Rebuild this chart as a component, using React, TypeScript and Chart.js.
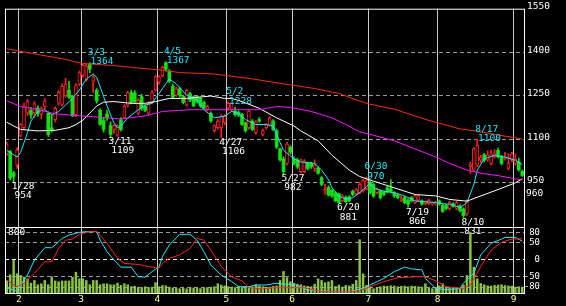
import React, { useEffect, useRef } from 'react';
import { Chart, registerables } from 'chart.js';

Chart.register(...registerables);

// ---------- categories (trading days) ----------
const monthNums = [1, 2, 3, 4, 5, 6, 7, 8, 9];
const monthDays: number[][] = [
  [26, 27, 28, 31],
  [1, 2, 3, 4, 7, 8, 9, 10, 14, 15, 16, 17, 18, 21, 22, 24, 25, 28],
  [1, 2, 3, 4, 7, 8, 9, 10, 11, 14, 15, 16, 17, 18, 22, 23, 24, 25, 28, 29, 30, 31],
  [1, 4, 5, 6, 7, 8, 11, 12, 13, 14, 15, 18, 19, 20, 21, 22, 25, 26, 27, 28],
  [2, 6, 9, 10, 11, 12, 13, 16, 17, 18, 19, 20, 23, 24, 25, 26, 27, 30, 31],
  [1, 2, 3, 6, 7, 8, 9, 10, 13, 14, 15, 16, 17, 20, 21, 22, 23, 24, 27, 28, 29, 30],
  [1, 4, 5, 6, 7, 8, 11, 12, 13, 14, 15, 19, 20, 21, 22, 25, 26, 27, 28, 29],
  [1, 2, 3, 4, 5, 8, 9, 10, 12, 15, 16, 17, 18, 19, 22, 23, 24, 25, 26, 29, 30, 31],
  [1, 2, 5],
];
const dates: string[] = monthDays.flatMap((ds, m) => ds.map((d) => `${monthNums[m]}/${d}`));

// ---------- daily prices ----------
const open = [
  1050, 1058, 985, 1012, 1112, 1140, 1190, 1200, 1192, 1208,
  1186, 1213, 1190, 1140, 1168, 1225, 1220, 1250, 1270, 1248,
  1185, 1290, 1320, 1305, 1360, 1300, 1270, 1200, 1165, 1188,
  1147, 1134, 1114, 1167, 1174, 1218, 1261, 1260, 1190, 1247,
  1214, 1190, 1227, 1269, 1298, 1319, 1364, 1335, 1282, 1252,
  1274, 1247, 1218, 1258, 1247, 1247, 1241, 1227, 1203, 1190,
  1130, 1140, 1140, 1157, 1207, 1201, 1197, 1192, 1185, 1157,
  1140, 1163, 1123, 1168, 1117, 1140, 1148, 1163, 1130, 1067,
  1033, 1017, 1073, 1033, 1029, 989, 989, 1017, 1017, 1000,
  1000, 968, 921, 935, 924, 916, 912, 888, 900, 902,
  921, 912, 916, 922, 930, 950, 945, 916, 921, 918,
  933, 930, 916, 908, 888, 899, 890, 899, 882, 890,
  888, 878, 878, 877, 877, 888, 873, 872, 860, 878,
  862, 871, 860, 843, 1006, 994, 1011, 1028, 1047, 1028,
  1017, 1039, 1062, 1039, 1033, 1000, 1028, 1017, 1022, 990,
];
const high = [
  1090, 1062, 990, 1072, 1155, 1225, 1238, 1210, 1230, 1215,
  1212, 1240, 1195, 1185, 1212, 1268, 1290, 1310, 1300, 1252,
  1292, 1335, 1362, 1360, 1364, 1322, 1275, 1205, 1175, 1200,
  1160, 1150, 1150, 1175, 1220, 1265, 1270, 1268, 1240, 1255,
  1220, 1230, 1268, 1320, 1320, 1352, 1367, 1340, 1290, 1280,
  1280, 1252, 1272, 1262, 1250, 1250, 1245, 1232, 1218, 1195,
  1150, 1168, 1185, 1185, 1228, 1226, 1210, 1198, 1190, 1160,
  1200, 1168, 1165, 1175, 1135, 1155, 1178, 1168, 1135, 1070,
  1040, 1090, 1078, 1040, 1035, 1032, 1030, 1022, 1022, 1029,
  1005, 972, 945, 940, 928, 920, 915, 910, 905, 906,
  925, 930, 950, 962, 970, 958, 950, 932, 925, 922,
  938, 961, 920, 912, 905, 903, 895, 903, 910, 908,
  892, 888, 894, 884, 886, 892, 876, 876, 886, 882,
  886, 875, 864, 892, 1022, 1072, 1100, 1045, 1052, 1060,
  1062, 1065, 1070, 1045, 1055, 1050, 1055, 1050, 1035, 995,
];
const low = [
  1045, 960, 954, 1000, 1108, 1135, 1182, 1172, 1175, 1180,
  1170, 1205, 1110, 1125, 1160, 1218, 1215, 1245, 1240, 1178,
  1178, 1285, 1315, 1300, 1330, 1262, 1225, 1148, 1125, 1165,
  1109, 1120, 1110, 1128, 1170, 1212, 1222, 1225, 1185, 1200,
  1195, 1182, 1222, 1265, 1290, 1315, 1335, 1295, 1240, 1248,
  1245, 1222, 1214, 1230, 1212, 1225, 1210, 1203, 1198, 1158,
  1125, 1135, 1106, 1150, 1200, 1195, 1180, 1178, 1148, 1125,
  1135, 1130, 1118, 1158, 1112, 1135, 1145, 1130, 1068, 1025,
  982, 1012, 1050, 1012, 1000, 985, 985, 995, 1000, 989,
  980, 940, 910, 905, 900, 885, 881, 885, 882, 885,
  905, 908, 912, 918, 926, 912, 900, 912, 895, 905,
  915, 915, 900, 895, 885, 878, 866, 884, 878, 886,
  873, 874, 874, 872, 873, 873, 848, 858, 856, 866,
  858, 850, 831, 838, 983, 990, 1005, 1020, 1022, 1025,
  1012, 1035, 1035, 1012, 1028, 995, 1022, 1012, 990, 972,
];
const close = [
  1084, 966, 972, 1063, 1151, 1215, 1230, 1184, 1222, 1188,
  1206, 1232, 1117, 1130, 1207, 1262, 1283, 1290, 1245, 1181,
  1285, 1330, 1355, 1352, 1342, 1315, 1232, 1152, 1135, 1174,
  1117, 1148, 1147, 1133, 1214, 1261, 1227, 1230, 1234, 1207,
  1200, 1224, 1261, 1316, 1315, 1348, 1342, 1300, 1244, 1274,
  1252, 1227, 1269, 1235, 1215, 1230, 1215, 1207, 1214, 1163,
  1147, 1163, 1180, 1180, 1224, 1224, 1185, 1182, 1151, 1130,
  1197, 1134, 1160, 1163, 1130, 1151, 1174, 1134, 1073, 1029,
  989, 1084, 1056, 1017, 1005, 1029, 1025, 1000, 1005, 1012,
  983, 945, 928, 908, 905, 888, 882, 905, 885, 888,
  910, 927, 946, 958, 960, 916, 905, 928, 899, 910,
  919, 920, 905, 899, 895, 882, 877, 888, 905, 905,
  877, 884, 890, 880, 882, 877, 852, 862, 882, 870,
  882, 854, 837, 888, 1013, 1067, 1079, 1039, 1028, 1045,
  1050, 1050, 1039, 1017, 1039, 1017, 1050, 1033, 995, 976,
];

// ---------- moving averages: [day index, value] ----------
const ma5: [number, number][] = [
  [0, 1062], [3, 1039], [4, 1055], [6, 1123], [7, 1163], [9, 1196], [11, 1202], [13, 1185], [15, 1196],
  [17, 1218], [19, 1241], [21, 1270], [23, 1308], [25, 1325], [26, 1314], [28, 1247], [29, 1215], [30, 1185],
  [31, 1157], [32, 1140], [33, 1146], [35, 1174], [38, 1202], [40, 1218], [42, 1224], [45, 1275], [47, 1308],
  [49, 1291], [52, 1252], [55, 1235], [57, 1202], [60, 1174], [63, 1180], [65, 1196], [67, 1190], [69, 1168],
  [72, 1151], [75, 1151], [77, 1146], [79, 1089], [80, 1062], [83, 1033], [85, 1022], [89, 1017], [91, 994],
  [93, 961], [94, 933], [96, 905], [98, 893], [100, 899], [102, 916], [104, 938], [105, 948], [106, 933],
  [109, 921], [112, 916], [115, 905], [118, 888], [121, 885], [124, 882], [127, 877], [128, 877], [131, 865],
  [133, 882], [135, 944], [136, 994], [138, 1033], [141, 1045], [144, 1039], [147, 1028], [149, 1013],
];
const ma25: [number, number][] = [
  [0, 1159], [2, 1146], [4, 1134], [9, 1129], [14, 1131], [18, 1140], [20, 1151], [22, 1166], [24, 1190],
  [26, 1215], [28, 1228], [31, 1230], [36, 1224], [40, 1224], [43, 1230], [47, 1241], [52, 1241], [57, 1247],
  [59, 1249], [63, 1241], [65, 1241], [68, 1230], [73, 1207], [78, 1174], [83, 1146], [85, 1129], [90, 1095],
  [94, 1045], [99, 994], [102, 972], [106, 956], [112, 933], [118, 910], [124, 905], [128, 893], [133, 887],
  [137, 905], [142, 927], [147, 950], [149, 964],
];
const ma75: [number, number][] = [
  [0, 1233], [4, 1213], [9, 1202], [14, 1188], [21, 1181], [27, 1176], [33, 1170], [40, 1181], [45, 1196],
  [53, 1202], [65, 1202], [73, 1202], [78, 1213], [82, 1210], [88, 1196], [94, 1174], [98, 1151], [102, 1126],
  [106, 1114], [112, 1095], [118, 1067], [124, 1039], [128, 1017], [133, 994], [137, 983], [142, 975],
  [147, 964], [149, 960],
];
const ma200: [number, number][] = [
  [0, 1412], [10, 1390], [16, 1378], [22, 1361], [30, 1355], [37, 1347], [45, 1338], [50, 1330], [60, 1325],
  [70, 1310], [80, 1291], [89, 1275], [96, 1258], [102, 1232], [105, 1221], [112, 1204], [122, 1165],
  [131, 1136], [136, 1128], [141, 1117], [149, 1101],
];

// ---------- volume (thousand shares) ----------
const volume = [
  150, 225, 405, 237, 216, 196, 176, 124, 156, 104,
  116, 156, 104, 200, 150, 140, 150, 150, 150, 196,
  256, 176, 176, 156, 104, 156, 156, 104, 116, 116,
  104, 104, 124, 96, 116, 104, 80, 85, 75, 70,
  80, 70, 75, 130, 80, 95, 90, 75, 65, 60,
  56, 60, 55, 70, 65, 60, 58, 62, 70, 75,
  80, 116, 100, 90, 80, 75, 70, 85, 70, 65,
  75, 80, 104, 90, 80, 70, 76, 85, 90, 156,
  265, 190, 140, 120, 110, 104, 90, 85, 80, 110,
  176, 156, 128, 140, 156, 84, 100, 76, 96, 90,
  110, 156, 650, 237, 96, 70, 56, 70, 80, 88,
  85, 90, 88, 80, 85, 88, 80, 88, 85, 80,
  76, 116, 70, 56, 70, 90, 116, 75, 64, 70,
  64, 60, 100, 216, 737, 316, 176, 120, 104, 90,
  88, 96, 100, 104, 95, 90, 88, 76, 80, 76,
];

// ---------- oscillator: [day index, value] ----------
const oscFast: [number, number][] = [
  [0, -82], [3, -92], [4, -74], [6, -45], [8, -1], [11, 35], [13, 35], [14, 43], [16, 62], [18, 72],
  [21, 80], [23, 82], [26, 82], [27, 57], [29, 23], [31, -1], [33, -22], [36, -22], [38, -50], [40, -51],
  [42, -35], [44, -21], [45, 9], [47, 43], [50, 74], [53, 74], [55, 57], [57, 23], [59, -16], [62, -45],
  [65, -64], [67, -79], [70, -79], [72, -74], [75, -74], [78, -69], [80, -72], [83, -72], [87, -89],
  [91, -91], [94, -94], [99, -94], [103, -84], [105, -74], [109, -55], [112, -35], [115, -22], [117, -27],
  [120, -30], [121, -55], [124, -84], [127, -88], [131, -84], [132, -69], [135, -40], [137, 14], [140, 48],
  [143, 60], [144, 65], [147, 65], [149, 54],
];
const oscSlow: [number, number][] = [
  [0, -60], [3, -79], [5, -69], [8, -40], [11, -6], [13, -6], [15, 33], [17, 57], [19, 60], [21, 74],
  [24, 82], [26, 82], [29, 48], [32, 4], [34, -11], [38, -14], [41, -20], [44, -25], [45, -11], [47, 4],
  [50, 14], [53, 33], [55, 62], [57, 57], [59, 28], [62, -20], [65, -50], [68, -62], [70, -82], [74, -86],
  [77, -82], [80, -82], [86, -82], [89, -89], [92, -94], [99, -94], [102, -91], [105, -79], [109, -64],
  [113, -53], [118, -50], [121, -50], [124, -62], [127, -79], [132, -84], [134, -74], [137, -20], [140, 28],
  [143, 51], [146, 60], [149, 61],
];

// ---------- ticks & notes ----------
const priceTicks = [950, 1100, 1250, 1400, 1550];
const oscTicks = [80, 50, 0, -50, -80];
const noteDates = ['1/28', '3/3', '3/11', '4/5', '4/27', '5/2', '5/27', '6/20', '6/30', '7/19', '8/10', '8/17'];
const notePrices = [954, 1364, 1109, 1367, 1106, 1228, 982, 881, 970, 866, 831, 1100];
const noteKinds = ['low', 'high', 'low', 'high', 'low', 'high', 'low', 'low', 'high', 'low', 'low', 'high'];
const volumeMaxLabel = '800';
const lastPriceLabel = '960';

// ---------- styles ----------
const FONT_FAMILY = '"DejaVu Sans Mono", monospace';
const FONT_SIZE = 9.5;
const RED = '#ff2020';
const GREEN = '#10e010';
const CYAN = '#20e8ff';
const VOL = '#88c440';
const GRID = '#9a9a9a';
const VGRID = '#c8c8c8';
const MONTH = '#ffff90';

const monthStart = new Map<number, string>();
{
  let acc = 0;
  monthDays.forEach((ds, m) => {
    if (m > 0) monthStart.set(acc, String(monthNums[m]));
    acc += ds.length;
  });
}
const toPts = (arr: [number, number][]) => arr.map(([i, v]) => ({ x: dates[i], y: v }));

const framePlugin = {
  id: 'frame',
  afterDraw(chart: any) {
    const { ctx, chartArea: a } = chart;
    ctx.save();
    ctx.strokeStyle = '#ffffff';
    ctx.lineWidth = 1;
    ctx.strokeRect(a.left + 0.5, a.top + 0.5, a.right - a.left, a.bottom - a.top);
    ctx.restore();
  },
};

const notesPlugin = {
  id: 'notes',
  afterDraw(chart: any) {
    const { ctx } = chart;
    const xs = chart.scales.x;
    const ys = chart.scales.y;
    ctx.save();
    ctx.font = `${FONT_SIZE}px ${FONT_FAMILY}`;
    ctx.textAlign = 'left';
    ctx.textBaseline = 'alphabetic';
    noteDates.forEach((d, k) => {
      const px = xs.getPixelForValue(dates.indexOf(d));
      const py = ys.getPixelForValue(notePrices[k]);
      if (noteKinds[k] === 'high') {
        ctx.fillStyle = CYAN;
        ctx.fillText(d, px - 2, py - 7.7);
        ctx.fillText(String(notePrices[k]), px + 0.8, py + 1.5);
      } else {
        ctx.fillStyle = '#ffffff';
        ctx.fillText(d, px - 2, py + 7.4);
        ctx.fillText(String(notePrices[k]), px + 0.8, py + 16.6);
      }
    });
    // last price tag under the axis
    ctx.fillStyle = '#ffffff';
    ctx.fillText(lastPriceLabel, chart.chartArea.right + 2, ys.getPixelForValue(950) + 13);
    ctx.restore();
  },
};

const lowerTextPlugin = {
  id: 'lowerText',
  afterDraw(chart: any) {
    const { ctx, chartArea: a } = chart;
    const ys = chart.scales.y;
    ctx.save();
    ctx.font = `${FONT_SIZE}px ${FONT_FAMILY}`;
    ctx.fillStyle = '#ffffff';
    ctx.textAlign = 'left';
    ctx.textBaseline = 'alphabetic';
    ctx.fillText(volumeMaxLabel, a.left + 3, a.top + 7.5);
    ctx.font = `9px ${FONT_FAMILY}`;
    ctx.textAlign = 'right';
    ctx.textBaseline = 'middle';
    oscTicks.forEach((v) => {
      ctx.fillText(String(v), a.right + 16, ys.getPixelForValue(v));
    });
    ctx.restore();
  },
};

const xGridColor = (c: any) => (monthStart.has(c.index) ? VGRID : 'transparent');

export default function App() {
  const topRef = useRef<HTMLCanvasElement | null>(null);
  const botRef = useRef<HTMLCanvasElement | null>(null);

  useEffect(() => {
    const up = close.map((c, i) => c >= open[i]);
    const line = (data: any, color: string) => ({
      type: 'line' as const,
      data,
      borderColor: color,
      borderWidth: 1,
      pointRadius: 0,
      tension: 0,
      spanGaps: true,
      order: 0,
    });

    const top = new Chart(topRef.current!, {
      type: 'bar',
      data: {
        labels: dates,
        datasets: [
          line(toPts(ma200), '#ff2a00'),
          line(toPts(ma75), '#ff10ff'),
          line(toPts(ma25), '#ffffff'),
          line(toPts(ma5), CYAN),
          {
            type: 'bar',
            data: dates.map((_, i) => [low[i], high[i]]),
            backgroundColor: up.map((u) => (u ? RED : GREEN)),
            barThickness: 1,
            grouped: false,
            order: 2,
          },
          {
            type: 'bar',
            data: dates.map((_, i) => [open[i], close[i]]),
            backgroundColor: up.map((u) => (u ? '#000000' : GREEN)),
            borderColor: up.map((u) => (u ? RED : GREEN)),
            borderWidth: up.map((u) => (u ? 1 : 0)),
            borderSkipped: false,
            barThickness: 3,
            grouped: false,
            order: 1,
          },
        ] as any,
      },
      options: {
        animation: false,
        responsive: false,
        maintainAspectRatio: false,
        devicePixelRatio: 1,
        layout: { padding: { left: 5, top: 3, bottom: 79, right: 0 } },
        plugins: { legend: { display: false }, tooltip: { enabled: false } },
        scales: {
          x: {
            offset: true,
            grid: { offset: true, color: xGridColor, drawTicks: false, lineWidth: 1 },
            ticks: { display: false, autoSkip: false },
            border: { display: false },
            afterFit: (s: any) => { s.height = 0; },
          },
          y: {
            position: 'right',
            min: 798,
            max: 1550,
            afterBuildTicks: (s: any) => { s.ticks = priceTicks.map((value) => ({ value })); },
            afterFit: (s: any) => { s.width = 42; },
            grid: {
              color: (c: any) => (c.tick && c.tick.value === 1550 ? 'transparent' : GRID),
              drawTicks: false,
            },
            border: { display: false, dash: [4, 3] },
            ticks: {
              color: '#ffffff',
              font: { family: FONT_FAMILY, size: FONT_SIZE },
              padding: 3,
              labelOffset: -2,
              callback: (v: any) => String(v),
            },
          },
        },
      } as any,
      plugins: [framePlugin, notesPlugin],
    });

    const bot = new Chart(botRef.current!, {
      type: 'bar',
      data: {
        labels: dates,
        datasets: [
          { ...line(toPts(oscSlow), RED), yAxisID: 'y' },
          { ...line(toPts(oscFast), CYAN), yAxisID: 'y' },
          {
            type: 'bar',
            data: volume,
            yAxisID: 'yv',
            backgroundColor: VOL,
            barPercentage: 0.72,
            categoryPercentage: 1,
            order: 1,
          },
        ] as any,
      },
      options: {
        animation: false,
        responsive: false,
        maintainAspectRatio: false,
        devicePixelRatio: 1,
        layout: { padding: { left: 5, top: 227, bottom: 0, right: 28 } },
        plugins: { legend: { display: false }, tooltip: { enabled: false } },
        scales: {
          x: {
            offset: true,
            grid: { offset: true, color: xGridColor, drawTicks: false, lineWidth: 1 },
            ticks: {
              autoSkip: false,
              maxRotation: 0,
              minRotation: 0,
              color: MONTH,
              font: { family: FONT_FAMILY, size: FONT_SIZE },
              padding: 1,
              labelOffset: -1.7,
              callback: (_v: any, i: number) => monthStart.get(i) ?? '',
            },
            border: { display: false },
            afterFit: (s: any) => { s.height = 13; },
          },
          y: {
            position: 'right',
            min: -97.5,
            max: 95.5,
            afterBuildTicks: (s: any) => { s.ticks = oscTicks.map((value) => ({ value })); },
            afterFit: (s: any) => { s.width = 14; },
            grid: {
              color: (c: any) => (c.tick && c.tick.value === 0 ? '#ffffff' : GRID),
              drawTicks: false,
            },
            border: { display: false, dash: [4, 3] },
            ticks: { display: false },
          },
          yv: {
            display: false,
            position: 'left',
            min: 0,
            max: 800,
          },
        },
      } as any,
      plugins: [framePlugin, lowerTextPlugin],
    });

    return () => {
      top.destroy();
      bot.destroy();
    };
  }, []);

  return (
    <div style={{ position: 'fixed', left: 0, top: 0, width: 566, height: 306, background: '#000', overflow: 'hidden' }}>
      <canvas ref={topRef} width={566} height={306} style={{ position: 'absolute', left: 0, top: 0, width: 566, height: 306 }} />
      <canvas ref={botRef} width={566} height={306} style={{ position: 'absolute', left: 0, top: 0, width: 566, height: 306 }} />
    </div>
  );
}
